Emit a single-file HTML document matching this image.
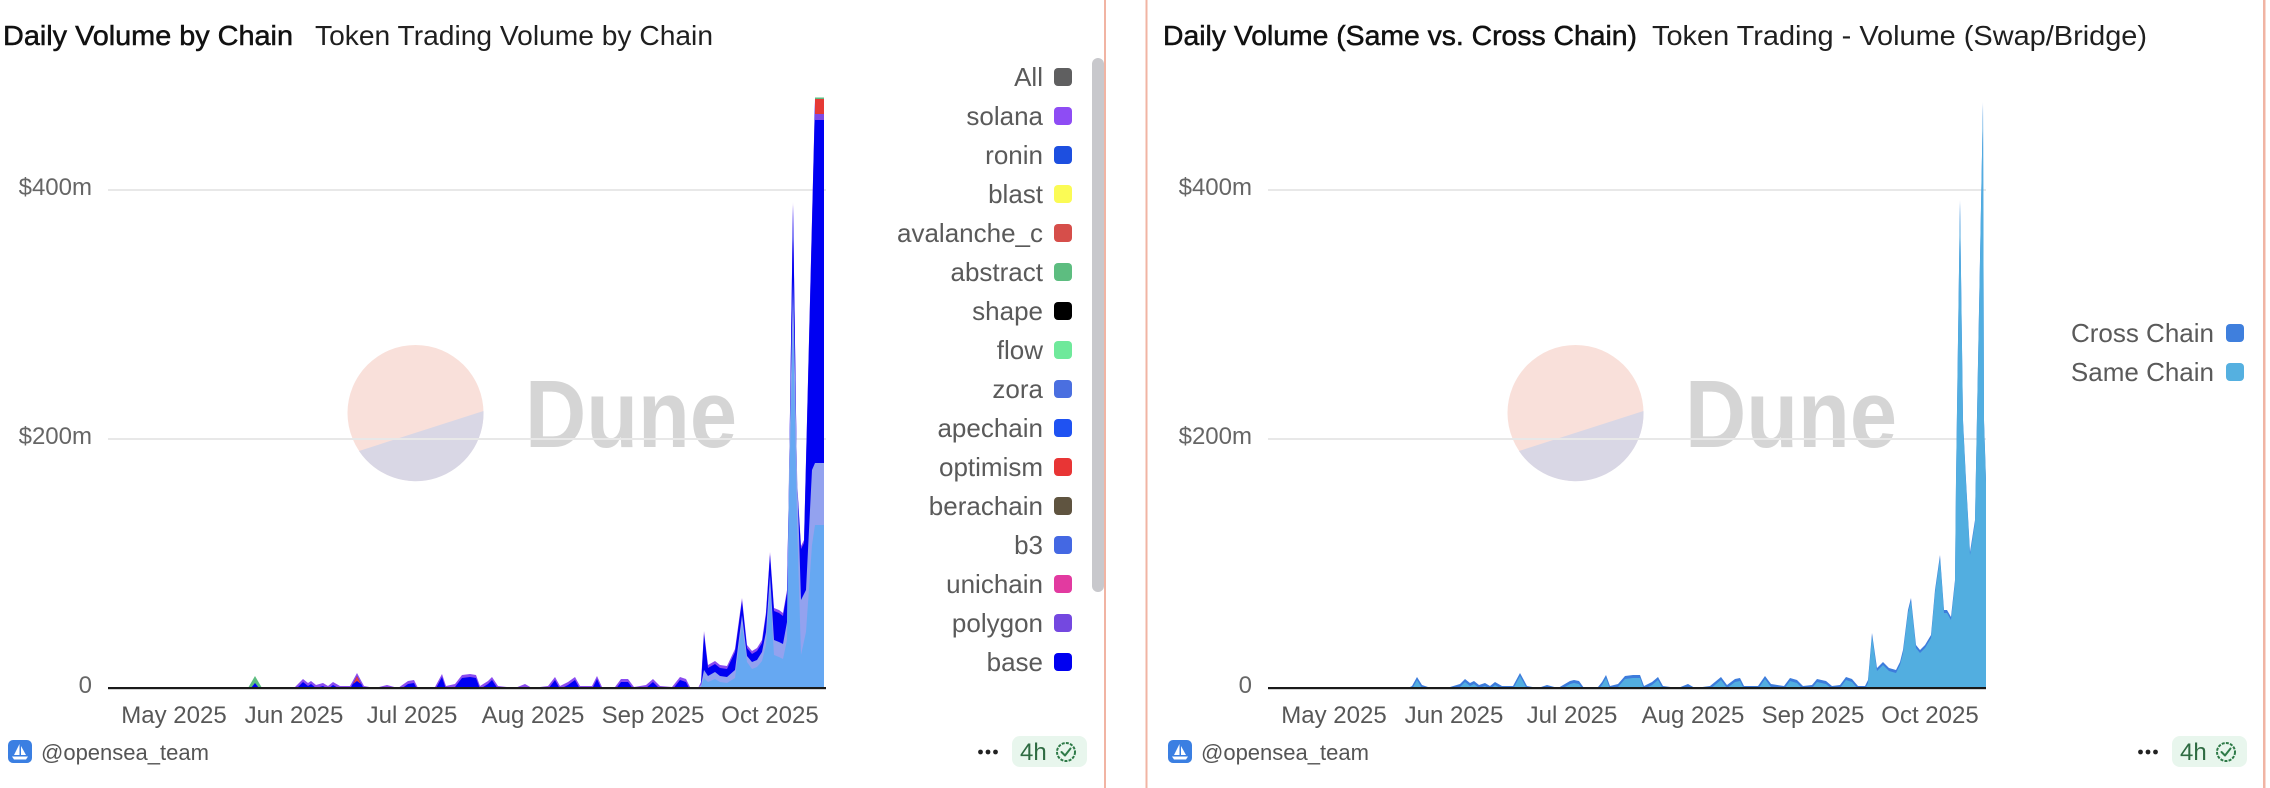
<!DOCTYPE html>
<html>
<head>
<meta charset="utf-8">
<style>
  html,body{margin:0;padding:0;background:#fff;}
  svg{display:block;}
  text{font-family:"Liberation Sans", Arial, sans-serif;}
</style>
</head>
<body>
<svg width="2270" height="788" viewBox="0 0 2270 788" xmlns="http://www.w3.org/2000/svg">
  <defs>
    <clipPath id="clipL"><rect x="100" y="0" width="724" height="688"/></clipPath>
    <clipPath id="clipR"><rect x="1260" y="0" width="726" height="688"/></clipPath>
  </defs>
  <rect x="0" y="0" width="2270" height="788" fill="#ffffff"/>

  <!-- panel borders -->
  <rect x="1104" y="0" width="2" height="788" fill="#f1b4a3"/>
  <rect x="1145.5" y="0" width="2" height="788" fill="#f1b4a3"/>
  <rect x="2263" y="0" width="2.5" height="788" fill="#f1b4a3"/>

  <!-- ================= LEFT PANEL ================= -->
  <text x="3" y="45" font-size="28" fill="#111" stroke="#111" stroke-width="0.5" textLength="290" lengthAdjust="spacingAndGlyphs">Daily Volume by Chain</text>
  <text x="315" y="45" font-size="28" fill="#1f1f1f" textLength="398" lengthAdjust="spacingAndGlyphs">Token Trading Volume by Chain</text>

  <!-- watermark -->
  <circle cx="415.5" cy="413" r="68" fill="#f9e0da"/>
  <path d="M359,451 A68,68 0 0 0 483.5,411 Z" fill="#d9d7e5"/>
  <text x="525" y="447" font-size="96" font-weight="bold" fill="#d5d5d5" textLength="212" lengthAdjust="spacingAndGlyphs">Dune</text>

  <!-- gridlines -->
  <rect x="108" y="189" width="718" height="2" fill="#e8e8e8"/>
  <rect x="108" y="438" width="718" height="2" fill="#e8e8e8"/>

  <!-- y labels -->
  <text x="92" y="195" font-size="24" fill="#666" text-anchor="end">$400m</text>
  <text x="92" y="444" font-size="24" fill="#666" text-anchor="end">$200m</text>
  <text x="92" y="693" font-size="24" fill="#666" text-anchor="end">0</text>

  <!-- data left -->
  <g clip-path="url(#clipL)">
    <path fill="#8a4cf0" d="M108,688 L295,687 L303,679 L308,683 L311,681 L316,685 L323,683 L328,686 L333,682 L340,686 L350,686 L357,673 L364,686 L375,688 L387,685 L398,688 L408,681 L414,680 L418,688 L435,687 L442,674 L446,686 L455,684 L462,675 L470,674 L476,675 L480,686 L488,681 L492,677 L498,686 L515,688 L525,684 L532,688 L548,686 L555,677 L560,686 L568,682 L575,677 L580,686 L592,686 L597,676 L602,687 L615,687 L621,679 L628,679 L634,687 L646,685 L653,679 L660,686 L672,687 L680,677 L686,679 L690,687 L698,688 L701,682 L704,631 L708,665 L715,661 L720,665 L727,666 L735,649 L742,598 L747,645 L752,651 L757,648 L762,640 L766,612 L770,552 L774,608 L779,610 L783,613 L787,590 L789,480 L793,202 L797,480 L801,546 L804,540 L815,99 L824,99 L824,692 L108,692 Z"/>
    <path fill="#0000f2" transform="translate(0,3)" d="M108,688 L295,687 L303,679 L308,683 L311,681 L316,685 L323,683 L328,686 L333,682 L340,686 L350,686 L357,673 L364,686 L375,688 L387,685 L398,688 L408,681 L414,680 L418,688 L435,687 L442,674 L446,686 L455,684 L462,675 L470,674 L476,675 L480,686 L488,681 L492,677 L498,686 L515,688 L525,684 L532,688 L548,686 L555,677 L560,686 L568,682 L575,677 L580,686 L592,686 L597,676 L602,687 L615,687 L621,679 L628,679 L634,687 L646,685 L653,679 L660,686 L672,687 L680,677 L686,679 L690,687 L698,688 L701,682 L704,631 L708,665 L715,661 L720,665 L727,666 L735,649 L742,598 L747,645 L752,651 L757,648 L762,640 L766,612 L770,552 L774,608 L779,610 L783,613 L787,590 L789,480 L793,202 L797,480 L801,546 L804,540 L815,99 L824,99 L824,692 L108,692 Z"/>
    <!-- green abstract bump -->
    <path fill="#5dbd80" d="M248,688 L255,676 L262,688 Z"/>
    <path fill="#0000f2" d="M251,688 L255,683 L259,688 Z"/>
    <!-- red accent on 357 bump -->
    <path fill="#e04040" d="M353,684 L357,676 L361,684 L357,681 Z"/>
    <!-- lavender layer -->
    <path fill="#93a2ef" d="M698,688 L701,685 L704,670 L708,676 L715,672 L720,676 L727,677 L735,670 L742,615 L747,656 L752,662 L757,660 L762,652 L766,632 L770,575 L774,640 L779,642 L783,644 L787,622 L789,470 L793,280 L797,470 L801,600 L806,590 L812,470 L815,463 L824,463 L824,692 L698,692 Z"/>
    <!-- light blue layer -->
    <path fill="#66a8f2" d="M698,688 L701,687 L704,678 L708,682 L715,679 L720,682 L727,683 L735,678 L742,625 L747,662 L752,669 L757,667 L762,661 L766,645 L770,590 L774,655 L779,657 L783,659 L787,640 L789,500 L793,320 L797,520 L801,655 L806,632 L812,545 L815,525 L824,525 L824,692 L698,692 Z"/>
    <!-- top bands final spike -->
    <rect x="815" y="99" width="9" height="15" fill="#e53935"/>
    <rect x="815" y="114" width="9" height="6" fill="#7e4be6"/>
    <rect x="815" y="97.5" width="9" height="1.5" fill="#5dbd80"/>
  </g>
  <!-- axis -->
  <rect x="108" y="687" width="718" height="2.2" fill="#1a1a1a"/>

  <!-- x labels -->
  <g font-size="24" fill="#575757" text-anchor="middle">
    <text x="174" y="723">May 2025</text>
    <text x="294" y="723">Jun 2025</text>
    <text x="412" y="723">Jul 2025</text>
    <text x="533" y="723">Aug 2025</text>
    <text x="653" y="723">Sep 2025</text>
    <text x="770" y="723">Oct 2025</text>
  </g>

  <!-- legend left -->
  <g font-size="26" fill="#5a5a5a" text-anchor="end">
    <text x="1043" y="86">All</text>
    <text x="1043" y="125">solana</text>
    <text x="1043" y="164">ronin</text>
    <text x="1043" y="203">blast</text>
    <text x="1043" y="242">avalanche_c</text>
    <text x="1043" y="281">abstract</text>
    <text x="1043" y="320">shape</text>
    <text x="1043" y="359">flow</text>
    <text x="1043" y="398">zora</text>
    <text x="1043" y="437">apechain</text>
    <text x="1043" y="476">optimism</text>
    <text x="1043" y="515">berachain</text>
    <text x="1043" y="554">b3</text>
    <text x="1043" y="593">unichain</text>
    <text x="1043" y="632">polygon</text>
    <text x="1043" y="671">base</text>
  </g>
  <g>
    <rect x="1054" y="68" width="18" height="18" rx="4" fill="#5f5f60"/>
    <rect x="1054" y="107" width="18" height="18" rx="4" fill="#8e4cf4"/>
    <rect x="1054" y="146" width="18" height="18" rx="4" fill="#1d4fe0"/>
    <rect x="1054" y="185" width="18" height="18" rx="4" fill="#fbfb55"/>
    <rect x="1054" y="224" width="18" height="18" rx="4" fill="#d64e4a"/>
    <rect x="1054" y="263" width="18" height="18" rx="4" fill="#5dbd80"/>
    <rect x="1054" y="302" width="18" height="18" rx="4" fill="#000000"/>
    <rect x="1054" y="341" width="18" height="18" rx="4" fill="#6fe99b"/>
    <rect x="1054" y="380" width="18" height="18" rx="4" fill="#4a6fe0"/>
    <rect x="1054" y="419" width="18" height="18" rx="4" fill="#1f52f2"/>
    <rect x="1054" y="458" width="18" height="18" rx="4" fill="#e83535"/>
    <rect x="1054" y="497" width="18" height="18" rx="4" fill="#5f5440"/>
    <rect x="1054" y="536" width="18" height="18" rx="4" fill="#4468e3"/>
    <rect x="1054" y="575" width="18" height="18" rx="4" fill="#e23aa0"/>
    <rect x="1054" y="614" width="18" height="18" rx="4" fill="#7448e0"/>
    <rect x="1054" y="653" width="18" height="18" rx="4" fill="#0000f0"/>
  </g>
  <!-- scrollbar -->
  <rect x="1092" y="58" width="12" height="534" rx="6" fill="#c8c8cc"/>

  <!-- footer left -->
  <rect x="8" y="740" width="24" height="23" rx="5" fill="#3b7fe2"/>
  <path d="M19.5,744 L19.5,755 L14,755 Z" fill="#fff"/>
  <path d="M21,746 L26,755 L21,755 Z" fill="#fff"/>
  <path d="M12,756.5 L28,756.5 L26,759.5 L14,759.5 Z" fill="#fff"/>
  <text x="41" y="760" font-size="22" fill="#555">@opensea_team</text>

  <circle cx="980.5" cy="752" r="2.4" fill="#222"/>
  <circle cx="988" cy="752" r="2.4" fill="#222"/>
  <circle cx="995.5" cy="752" r="2.4" fill="#222"/>
  <rect x="1012" y="736" width="75" height="31" rx="8" fill="#e8f6ed"/>
  <text x="1020" y="760" font-size="24" fill="#2e6b42">4h</text>
  <circle cx="1066" cy="752" r="9" fill="none" stroke="#2e7a48" stroke-width="2" stroke-dasharray="3 1.2"/>
  <path d="M1061.5,752 L1065,755.5 L1070.5,748.5" fill="none" stroke="#2e7a48" stroke-width="2" stroke-linecap="round" stroke-linejoin="round"/>

  <!-- ================= RIGHT PANEL ================= -->
  <text x="1163" y="45" font-size="28" fill="#111" stroke="#111" stroke-width="0.5" textLength="474" lengthAdjust="spacingAndGlyphs">Daily Volume (Same vs. Cross Chain)</text>
  <text x="1652" y="45" font-size="28" fill="#1f1f1f" textLength="495" lengthAdjust="spacingAndGlyphs">Token Trading - Volume (Swap/Bridge)</text>

  <circle cx="1575.5" cy="413" r="68" fill="#f9e0da"/>
  <path d="M1519,451 A68,68 0 0 0 1643.5,411 Z" fill="#d9d7e5"/>
  <text x="1685" y="447" font-size="96" font-weight="bold" fill="#d5d5d5" textLength="212" lengthAdjust="spacingAndGlyphs">Dune</text>

  <rect x="1268" y="189" width="718" height="2" fill="#e8e8e8"/>
  <rect x="1268" y="438" width="718" height="2" fill="#e8e8e8"/>

  <text x="1252" y="195" font-size="24" fill="#666" text-anchor="end">$400m</text>
  <text x="1252" y="444" font-size="24" fill="#666" text-anchor="end">$200m</text>
  <text x="1252" y="693" font-size="24" fill="#666" text-anchor="end">0</text>

  <g clip-path="url(#clipR)">
    <path fill="#3d7cdc" d="M1268,688 L1408,688 L1412,686 L1417,677 L1422,685 L1428,687 L1450,687 L1460,684 L1465,679 L1470,683 L1474,681 L1479,685 L1485,683 L1490,686 L1495,682 L1502,686 L1513,686 L1520,673 L1527,686 L1538,688 L1547,685 L1558,688 L1570,681 L1574,680 L1579,681 L1584,688 L1598,687 L1602,682 L1606,675 L1610,686 L1618,684 L1625,676 L1633,675 L1640,675 L1644,686 L1652,682 L1658,677 L1663,686 L1678,688 L1688,684 L1695,688 L1710,686 L1721,677 L1727,685 L1735,679 L1740,678 L1744,686 L1758,686 L1765,676 L1771,684 L1784,686 L1790,678 L1797,680 L1803,686 L1812,685 L1817,679 L1826,681 L1832,686 L1840,685 L1846,677 L1852,679 L1858,686 L1865,686 L1868,680 L1872,633 L1877,668 L1883,662 L1889,668 L1896,670 L1900,662 L1903,650 L1908,610 L1911,598 L1916,645 L1920,650 L1925,645 L1931,635 L1935,590 L1940,555 L1944,610 L1947,610 L1951,617 L1955,580 L1956,480 L1960,200 L1963,420 L1966,480 L1970,552 L1975,520 L1983,102 L1984,420 L1986,480 L1986,692 L1268,692 Z"/>
    <path fill="#52aee0" transform="translate(0,3)" d="M1268,688 L1408,688 L1412,686 L1417,677 L1422,685 L1428,687 L1450,687 L1460,684 L1465,679 L1470,683 L1474,681 L1479,685 L1485,683 L1490,686 L1495,682 L1502,686 L1513,686 L1520,673 L1527,686 L1538,688 L1547,685 L1558,688 L1570,681 L1574,680 L1579,681 L1584,688 L1598,687 L1602,682 L1606,675 L1610,686 L1618,684 L1625,676 L1633,675 L1640,675 L1644,686 L1652,682 L1658,677 L1663,686 L1678,688 L1688,684 L1695,688 L1710,686 L1721,677 L1727,685 L1735,679 L1740,678 L1744,686 L1758,686 L1765,676 L1771,684 L1784,686 L1790,678 L1797,680 L1803,686 L1812,685 L1817,679 L1826,681 L1832,686 L1840,685 L1846,677 L1852,679 L1858,686 L1865,686 L1868,680 L1872,633 L1877,668 L1883,662 L1889,668 L1896,670 L1900,662 L1903,650 L1908,610 L1911,598 L1916,645 L1920,650 L1925,645 L1931,635 L1935,590 L1940,555 L1944,610 L1947,610 L1951,617 L1955,580 L1956,480 L1960,200 L1963,420 L1966,480 L1970,552 L1975,520 L1983,102 L1984,420 L1986,480 L1986,692 L1268,692 Z"/>
  </g>
  <rect x="1268" y="687" width="718" height="2.2" fill="#1a1a1a"/>

  <g font-size="24" fill="#575757" text-anchor="middle">
    <text x="1334" y="723">May 2025</text>
    <text x="1454" y="723">Jun 2025</text>
    <text x="1572" y="723">Jul 2025</text>
    <text x="1693" y="723">Aug 2025</text>
    <text x="1813" y="723">Sep 2025</text>
    <text x="1930" y="723">Oct 2025</text>
  </g>

  <!-- legend right -->
  <g font-size="26" fill="#5a5a5a" text-anchor="end">
    <text x="2214" y="342">Cross Chain</text>
    <text x="2214" y="381">Same Chain</text>
  </g>
  <rect x="2226" y="324" width="18" height="18" rx="4" fill="#3f7fdd"/>
  <rect x="2226" y="363" width="18" height="18" rx="4" fill="#55b0e0"/>

  <!-- footer right -->
  <rect x="1168" y="740" width="24" height="23" rx="5" fill="#3b7fe2"/>
  <path d="M1179.5,744 L1179.5,755 L1174,755 Z" fill="#fff"/>
  <path d="M1181,746 L1186,755 L1181,755 Z" fill="#fff"/>
  <path d="M1172,756.5 L1188,756.5 L1186,759.5 L1174,759.5 Z" fill="#fff"/>
  <text x="1201" y="760" font-size="22" fill="#555">@opensea_team</text>

  <circle cx="2140.5" cy="752" r="2.4" fill="#222"/>
  <circle cx="2148" cy="752" r="2.4" fill="#222"/>
  <circle cx="2155.5" cy="752" r="2.4" fill="#222"/>
  <rect x="2172" y="736" width="75" height="31" rx="8" fill="#e8f6ed"/>
  <text x="2180" y="760" font-size="24" fill="#2e6b42">4h</text>
  <circle cx="2226" cy="752" r="9" fill="none" stroke="#2e7a48" stroke-width="2" stroke-dasharray="3 1.2"/>
  <path d="M2221.5,752 L2225,755.5 L2230.5,748.5" fill="none" stroke="#2e7a48" stroke-width="2" stroke-linecap="round" stroke-linejoin="round"/>
</svg>
</body>
</html>
